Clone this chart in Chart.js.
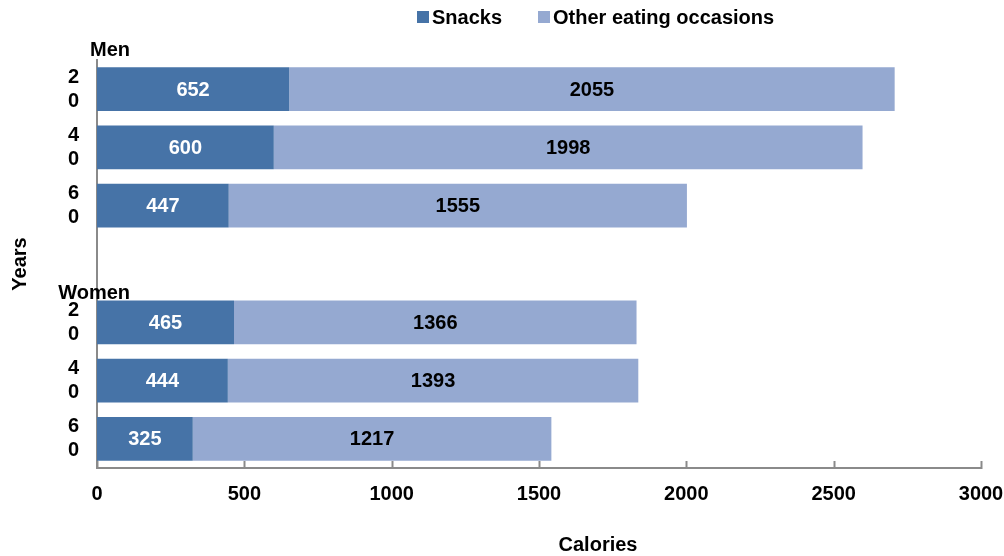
<!DOCTYPE html>
<html>
<head>
<meta charset="utf-8">
<script src="https://cdn.jsdelivr.net/npm/chart.js@4.4.1/dist/chart.umd.min.js"></script>
<style>
    html, body { margin: 0; padding: 0; background: #ffffff; }
    #wrap { width: 1004px; height: 556px; position: relative; }
</style>
</head>
<body>
<div id="wrap"><canvas id="caloriesChart" width="1004" height="556"></canvas></div>
<script>
const categories = [['2', '0'], ['4', '0'], ['6', '0'], '', ['2', '0'], ['4', '0'], ['6', '0']];
const snacks = [652, 600, 447, null, 465, 444, 325];
const otherOccasions = [2055, 1998, 1555, null, 1366, 1393, 1217];
const groupNames = ['Men', 'Women'];
const groupStart = [0, 4];
const xMin = 0;
const xMax = 3000;
const xStep = 500;

const FONT = "'Liberation Sans', Arial, sans-serif";
const SNACK_COLOR = '#4673a7';
const OTHER_COLOR = '#95a9d1';
const AXIS_COLOR = '#8a8a8a';

// value labels centred inside every bar segment
const valueLabels = {
    id: 'valueLabels',
    afterDatasetsDraw(chart) {
        const ctx = chart.ctx;
        ctx.save();
        ctx.font = `bold 20px ${FONT}`;
        ctx.textAlign = 'center';
        ctx.textBaseline = 'middle';
        chart.data.datasets.forEach((ds, i) => {
            const meta = chart.getDatasetMeta(i);
            meta.data.forEach((bar, j) => {
                if (ds.data[j] == null) {
                    return;
                }
                ctx.fillStyle = i === 0 ? '#ffffff' : '#000000';
                ctx.fillText(String(ds.data[j]), (bar.x + bar.base) / 2, bar.y + 1);
            });
        });
        ctx.restore();
    },
};

// Men / Women headings, short inward ticks on the x axis, x title, legend
const decorations = {
    id: 'decorations',
    afterDraw(chart) {
        const ctx = chart.ctx;
        const x = chart.scales.x;
        const y = chart.scales.y;
        const area = chart.chartArea;
        ctx.save();

        ctx.strokeStyle = AXIS_COLOR;
        ctx.lineWidth = 2;
        for (let v = xMin; v <= xMax; v += xStep) {
            const px = Math.round(x.getPixelForValue(v)) + 0.5;
            ctx.beginPath();
            ctx.moveTo(px, area.bottom - 7);
            ctx.lineTo(px, area.bottom + 1);
            ctx.stroke();
        }

        ctx.fillStyle = '#000000';
        ctx.font = `bold 20px ${FONT}`;
        ctx.textAlign = 'right';
        ctx.textBaseline = 'middle';
        const band = y.getPixelForValue(1) - y.getPixelForValue(0);
        const offsets = [10, 0];
        groupNames.forEach((name, i) => {
            const top = y.getPixelForValue(groupStart[i]) - band / 2;
            ctx.fillText(name, 130, top - offsets[i]);
        });

        ctx.textAlign = 'center';
        ctx.fillText('Calories', 598, 545);

        ctx.textAlign = 'left';
        const items = [
            { label: chart.data.datasets[0].label, color: SNACK_COLOR, x: 417 },
            { label: chart.data.datasets[1].label, color: OTHER_COLOR, x: 538 },
        ];
        items.forEach((item) => {
            ctx.fillStyle = item.color;
            ctx.fillRect(item.x, 11, 12, 12);
            ctx.fillStyle = '#000000';
            ctx.fillText(item.label, item.x + 15, 18);
        });
        ctx.restore();
    },
};

const ctx = document.getElementById('caloriesChart').getContext('2d');
new Chart(ctx, {
    type: 'bar',
    data: {
        labels: categories,
        datasets: [
            {
                label: 'Snacks',
                data: snacks,
                backgroundColor: SNACK_COLOR,
                categoryPercentage: 1,
                barPercentage: 0.75,
            },
            {
                label: 'Other eating occasions',
                data: otherOccasions,
                backgroundColor: OTHER_COLOR,
                categoryPercentage: 1,
                barPercentage: 0.75,
            },
        ],
    },
    options: {
        indexAxis: 'y',
        responsive: false,
        animation: false,
        layout: {
            padding: { top: 60, right: 23, left: 0, bottom: 0 },
        },
        plugins: {
            legend: { display: false },
            tooltip: { enabled: false },
        },
        scales: {
            x: {
                stacked: true,
                min: xMin,
                max: xMax,
                afterFit(scale) {
                    scale.height = 88;
                    scale.paddingRight = 0;
                    scale.paddingLeft = 0;
                },
                grid: { display: false, drawTicks: false },
                border: { color: AXIS_COLOR, width: 2 },
                ticks: {
                    stepSize: xStep,
                    autoSkip: false,
                    maxRotation: 0,
                    padding: 14,
                    color: '#000000',
                    font: { family: FONT, size: 20, weight: 'bold' },
                    callback: (value) => String(value),
                },
            },
            y: {
                stacked: true,
                afterFit(scale) {
                    scale.width = 97;
                },
                grid: { display: false, drawTicks: false },
                border: { color: AXIS_COLOR, width: 2 },
                ticks: {
                    autoSkip: false,
                    padding: 18,
                    color: '#000000',
                    font: { family: FONT, size: 20, weight: 'bold', lineHeight: 1.2 },
                },
                title: {
                    display: true,
                    text: 'Years',
                    color: '#000000',
                    padding: { top: 8, bottom: 0 },
                    font: { family: FONT, size: 20, weight: 'bold' },
                },
            },
        },
    },
    plugins: [valueLabels, decorations],
});
</script>
</body>
</html>
